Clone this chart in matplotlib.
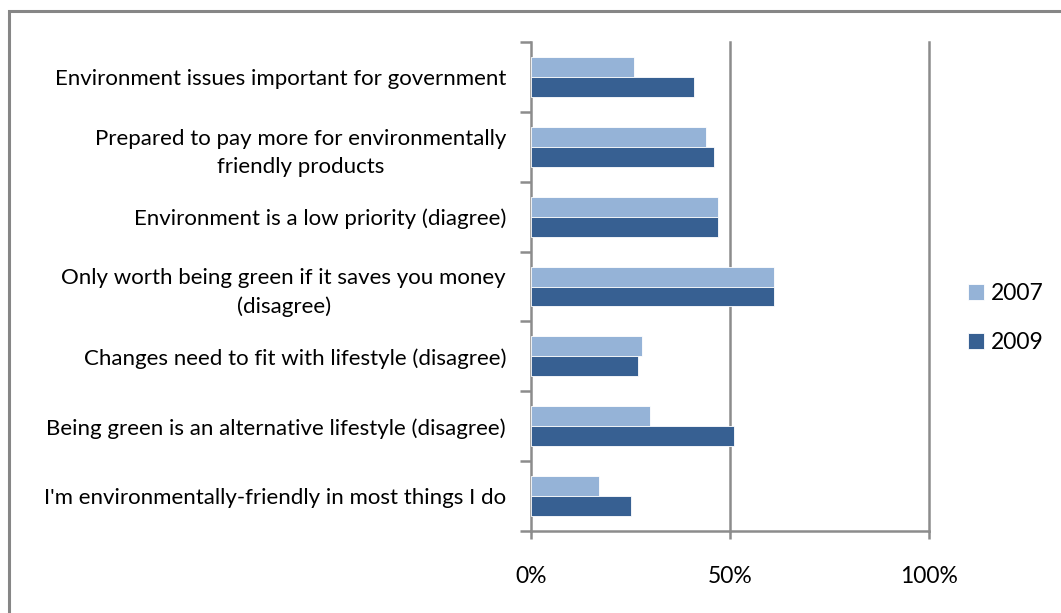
import matplotlib
matplotlib.use("Agg")
import matplotlib.pyplot as plt
from matplotlib.patches import Rectangle
import numpy as np

categories = [
    "Environment issues important for government",
    "Prepared to pay more for environmentally\nfriendly products",
    "Environment is a low priority (diagree)",
    "Only worth being green if it saves you money\n(disagree)",
    "Changes need to fit with lifestyle (disagree)",
    "Being green is an alternative lifestyle (disagree)",
    "I'm environmentally-friendly in most things I do",
]
series_names = ["2007", "2009"]
values_2007 = [26, 44, 47, 61, 28, 30, 17]
values_2009 = [41, 46, 47, 61, 27, 51, 25]
x_ticks = [0, 50, 100]
x_tick_labels = ["0%", "50%", "100%"]

c07 = "#95B3D7"
c09 = "#376092"
grey = "#8C8C8C"

plt.rcParams['font.family'] = ['Lato', 'DejaVu Sans']

W, H = 1061, 613
fig = plt.figure(figsize=(W / 100, H / 100), dpi=100)
fig.patch.set_facecolor("white")

# outer chart border (cropped at right/bottom)
fig.patches.append(Rectangle((9 / W, -0.1), 1.2, 1 - 11 / H + 0.1, transform=fig.transFigure,
                             fill=False, edgecolor="#868686", linewidth=2.2))

ax = fig.add_axes([531 / W, 1 - 531 / H, (929 - 531) / W, (531 - 42) / H])
n = len(categories)
centers = np.arange(n) + 0.5
bh = 20 / 69.9
ax.barh(centers - bh / 2, values_2007, height=bh, color=c07, edgecolor="white", linewidth=0.6,
        label=series_names[0], zorder=3)
ax.barh(centers + bh / 2, values_2009, height=bh, color=c09, edgecolor="white", linewidth=0.6,
        label=series_names[1], zorder=3)

ax.set_xlim(0, 100)
ax.set_ylim(n, 0)

ax.set_yticks(np.arange(n + 1))
ax.set_yticklabels([])
ax.set_yticks(centers, minor=True)
ax.set_yticklabels(categories, minor=True, fontsize=16, multialignment="center", linespacing=1.5)
ax.tick_params(axis="y", which="major", length=8, width=1.8, color=grey, direction="out")
ax.tick_params(axis="y", which="minor", length=0, pad=18)

ax.set_xticks(x_ticks)
ax.set_xticklabels(x_tick_labels, fontsize=16.5)
ax.tick_params(axis="x", length=6, width=1.8, color=grey, direction="out", pad=19)

for s in ["top", "right"]:
    ax.spines[s].set_visible(False)
for s in ["left", "bottom"]:
    ax.spines[s].set_color(grey)
    ax.spines[s].set_linewidth(1.8)

for xv in x_ticks[1:]:
    ax.axvline(xv, color=grey, linewidth=1.8, zorder=1, clip_on=False)

leg = fig.legend(loc="center left", bbox_to_anchor=(947 / W, 1 - 318 / H), frameon=False,
                 fontsize=16.5, handlelength=0.7, handleheight=0.7, handletextpad=0.3,
                 labelspacing=1.2)

fig.savefig("out.png", dpi=100, facecolor="white")
